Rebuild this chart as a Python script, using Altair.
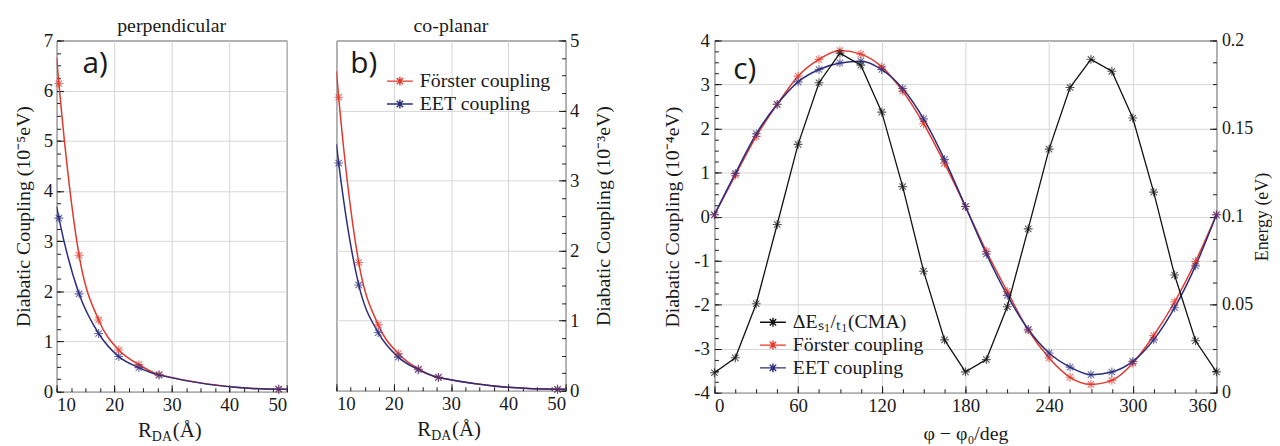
import altair as alt
import pandas as pd

# ---------------- data ----------------
R_DA = [10.4, 13.9, 17.3, 20.8, 24.3, 27.8, 48.6]
perp_forster = [6.14, 2.72, 1.43, 0.83, 0.54, 0.34, 0.05]
perp_eet = [3.46, 1.95, 1.16, 0.70, 0.48, 0.33, 0.05]
copl_forster = [4.19, 1.83, 0.94, 0.53, 0.31, 0.19, 0.02]
copl_eet = [3.25, 1.51, 0.83, 0.48, 0.30, 0.19, 0.02]

# where the drawn curves meet the frame at R = 10 and R = 50
curve_ends_R = [10.0, 50.0]
perp_forster_ends = [6.66, 0.05]
perp_eet_ends = [3.69, 0.05]
copl_forster_ends = [4.56, 0.02]
copl_eet_ends = [3.52, 0.02]

phi_deg = [0, 15, 30, 45, 60, 75, 90, 105, 120, 135, 150, 165, 180,
           195, 210, 225, 240, 255, 270, 285, 300, 315, 330, 345, 360]
forster_phi = [0.04, 0.94, 1.82, 2.55, 3.19, 3.57, 3.77, 3.69, 3.40, 2.85, 2.11, 1.21, 0.23,
               -0.79, -1.70, -2.58, -3.21, -3.65, -3.81, -3.72, -3.33, -2.70, -1.94, -1.02, 0.04]
eet_phi = [0.04, 0.98, 1.88, 2.55, 3.06, 3.34, 3.49, 3.53, 3.34, 2.91, 2.22, 1.30, 0.23,
           -0.85, -1.79, -2.56, -3.10, -3.42, -3.59, -3.53, -3.29, -2.80, -2.07, -1.12, 0.04]
dE_cma = [0.0113, 0.0198, 0.0505, 0.0955, 0.1410, 0.1760, 0.1928, 0.1860, 0.1593, 0.1170, 0.0690, 0.0300, 0.0118,
          0.0188, 0.0488, 0.0930, 0.1383, 0.1733, 0.1893, 0.1825, 0.1560, 0.1139, 0.0668, 0.0295, 0.0118]

SER_F = "Förster coupling"
SER_E = "EET coupling"
SER_D = "ΔEₛ₁/ₜ₁(CMA)"

# axis tick values
r_major = [10, 20, 30, 40, 50]
r_minor = [10 + 2.5 * i for i in range(17)]
a_major = [0, 1, 2, 3, 4, 5, 6, 7]
a_minor = [0.25 * i for i in range(29)]
b_major = [0, 1, 2, 3, 4, 5]
b_minor = [0.25 * i for i in range(21)]
phi_major = [0, 60, 120, 180, 240, 300, 360]
phi_minor = [15 * i for i in range(25)]
c_major = [-4, -3, -2, -1, 0, 1, 2, 3, 4]
c_minor = [-4 + 0.25 * i for i in range(33)]
e_major = [0, 0.05, 0.1, 0.15, 0.2]
e_minor = [0.0125 * i for i in range(17)]

# ---------------- style ----------------
FONT = "Liberation Serif"
SANS = "Open Sans"
INK = "#1a1a1a"
RED = "#e2372c"
NAVY = "#2b2d7e"
BLACK = "#111111"
GRID = "#d6d6d6"
ASTER = "M-1,0L1,0M0,-1L0,1M-0.72,-0.72L0.72,0.72M-0.72,0.72L0.72,-0.72"
LEG_SYM = "M-2.6,0L2.6,0M-0.9,0L0.9,0M0,-0.9L0,0.9M-0.65,-0.65L0.65,0.65M-0.65,0.65L0.65,-0.65"


def make_axis(orient, values, major, title=None, title_padding=8, title_angle=None,
              title_baseline=None, label_size=19, label_pad=4, grid=True, title_size=20):
    kw = dict(orient=orient, values=values, domain=False, ticks=True,
              tickColor=INK, tickWidth=1, labelOverlap=False)
    if major:
        kw.update(tickSize=7, offset=-7, labelFont=FONT, labelFontSize=label_size,
                  labelColor=INK, labelPadding=label_pad, grid=grid, gridColor=GRID,
                  gridWidth=1, labelExpr="toString(datum.value)")
    else:
        kw.update(tickSize=4, offset=-4, labels=False, grid=False)
    if title:
        kw.update(title=title, titleFont=FONT, titleFontSize=title_size,
                  titleFontWeight="normal", titleColor=INK, titlePadding=title_padding)
        if title_angle is not None:
            kw["titleAngle"] = title_angle
        if title_baseline is not None:
            kw["titleBaseline"] = title_baseline
    else:
        kw["title"] = None
    return alt.Axis(**kw)


def legend(x, y):
    return alt.Legend(title=None, orient="none", legendX=x, legendY=y,
                      symbolType=LEG_SYM, symbolSize=100, symbolStrokeWidth=1.4,
                      labelFont=FONT, labelFontSize=20, labelColor=INK,
                      labelOffset=10, rowPadding=3, padding=0)


one = pd.DataFrame({"k": [0]})


def label_text(txt, x, y):
    return alt.Chart(one).mark_text(text=txt, align="left", baseline="alphabetic",
                                    font=SANS, fontSize=30, color=INK).encode(
        x=alt.value(x), y=alt.value(y))


def rda_title(w, h):
    x0 = w / 2 - 34
    r = alt.Chart(one).mark_text(text="R", align="left", baseline="alphabetic", font=FONT,
                                 fontSize=21, color=INK).encode(x=alt.value(x0), y=alt.value(h + 46))
    da = alt.Chart(one).mark_text(text="DA", align="left", baseline="alphabetic", font=FONT,
                                  fontSize=14, color=INK).encode(x=alt.value(x0 + 14), y=alt.value(h + 50))
    ang = alt.Chart(one).mark_text(text="(Å)", align="left", baseline="alphabetic", font=FONT,
                                   fontSize=21, color=INK).encode(x=alt.value(x0 + 35), y=alt.value(h + 46))
    return [r, da, ang]


TITLE = dict(font=FONT, fontSize=20, fontWeight="normal", color=INK, offset=-4, anchor="middle")


def distance_panel(fvals, evals, fends, eends, ydom, ymaj, ymin, ytitle, yorient, tpad,
                   tangle, tbase, leg, lab, labx, laby, w, h, title):
    n = len(R_DA)
    pts_df = pd.DataFrame({"R": R_DA * 2, "V": fvals + evals,
                           "series": [SER_F] * n + [SER_E] * n})
    curve_R = [curve_ends_R[0]] + R_DA + [curve_ends_R[1]]
    curve_df = pd.DataFrame({
        "R": curve_R * 2,
        "V": [fends[0]] + fvals + [fends[1]] + [eends[0]] + evals + [eends[1]],
        "series": [SER_F] * (n + 2) + [SER_E] * (n + 2),
    })
    cs = alt.Scale(domain=[SER_F, SER_E], range=[RED, NAVY])
    xs = alt.Scale(domain=[10, 50], nice=False, zero=False)
    ys = alt.Scale(domain=ydom, nice=False, zero=False)
    line = alt.Chart(curve_df).mark_line(strokeWidth=1.5, interpolate="monotone", clip=True).encode(
        x=alt.X("R:Q", scale=xs, axis=make_axis("bottom", r_major, True)),
        y=alt.Y("V:Q", scale=ys, axis=make_axis(yorient, ymaj, True, title=ytitle,
                                                 title_padding=tpad, title_angle=tangle,
                                                 title_baseline=tbase)),
        color=alt.Color("series:N", scale=cs, legend=leg),
    )
    pts = alt.Chart(pts_df).mark_point(shape=ASTER, filled=False, size=80, strokeWidth=1.1).encode(
        x=alt.X("R:Q", scale=xs, axis=make_axis("bottom", r_minor, False)),
        y=alt.Y("V:Q", scale=ys, axis=make_axis(yorient, ymin, False)),
        color=alt.Color("series:N", scale=cs, legend=None),
    )
    layers = [line, pts, label_text(lab, labx, laby)] + rda_title(w, h)
    return alt.layer(*layers).resolve_axis(x="independent", y="independent").properties(
        width=w, height=h, title=alt.TitleParams(title, **TITLE))


pa = distance_panel(perp_forster, perp_eet, perp_forster_ends, perp_eet_ends, [0, 7],
                    a_major, a_minor, "Diabatic Coupling (10⁻⁵eV)", "left", 10, None, None,
                    None, "a)", 26, 33, 232, 354, "perpendicular")
pb = distance_panel(copl_forster, copl_eet, copl_forster_ends, copl_eet_ends, [0, 5],
                    b_major, b_minor, "Diabatic Coupling (10⁻³eV)", "right", 15, 270, "top",
                    legend(54, 31), "b)", 14, 33, 231, 353, "co-planar")

# ---------------- panel c ----------------
cpl = pd.DataFrame({"phi": phi_deg * 2, "V": forster_phi + eet_phi,
                    "series": [SER_F] * len(phi_deg) + [SER_E] * len(phi_deg)})
ene = pd.DataFrame({"phi": phi_deg, "E": dE_cma, "series": [SER_D] * len(phi_deg)})
csc = alt.Scale(domain=[SER_D, SER_F, SER_E], range=[BLACK, RED, NAVY])
xsc = alt.Scale(domain=[0, 360], nice=False, zero=False)
ysl = alt.Scale(domain=[-4, 4], nice=False, zero=False)
ysr = alt.Scale(domain=[0, 0.2], nice=False, zero=False)
WC, HC = 506, 355

c1 = alt.Chart(cpl).mark_line(interpolate="monotone", strokeWidth=1.5).encode(
    x=alt.X("phi:Q", scale=xsc, axis=make_axis("bottom", phi_major, True,
                                                title="φ − φ₀/deg", title_padding=8)),
    y=alt.Y("V:Q", scale=ysl, axis=make_axis("left", c_major, True,
                                              title="Diabatic Coupling (10⁻⁴eV)",
                                              title_padding=11, label_pad=5)),
    color=alt.Color("series:N", scale=csc, legend=legend(49, 274)),
)
c2 = alt.Chart(cpl).mark_point(shape=ASTER, filled=False, size=80, strokeWidth=1.1).encode(
    x=alt.X("phi:Q", scale=xsc, axis=make_axis("bottom", phi_minor, False)),
    y=alt.Y("V:Q", scale=ysl, axis=make_axis("left", c_minor, False)),
    color=alt.Color("series:N", scale=csc, legend=None),
)
c3 = alt.Chart(ene).mark_line(strokeWidth=1.3).encode(
    x=alt.X("phi:Q", scale=xsc, axis=None),
    y=alt.Y("E:Q", scale=ysr, axis=make_axis("right", e_major, True, title="Energy (eV)",
                                              title_padding=1, title_angle=270,
                                              title_baseline="top", grid=False,
                                              label_size=18, label_pad=5, title_size=18)),
    color=alt.Color("series:N", scale=csc, legend=None),
)
c4 = alt.Chart(ene).mark_point(shape=ASTER, filled=False, size=80, strokeWidth=1.1).encode(
    x=alt.X("phi:Q", scale=xsc, axis=None),
    y=alt.Y("E:Q", scale=ysr, axis=make_axis("right", e_minor, False)),
    color=alt.Color("series:N", scale=csc, legend=None),
)
pc = alt.layer(c1, c2, c3, c4, label_text("c)", 19, 39)).resolve_scale(
    y="independent").resolve_axis(x="independent", y="independent").properties(
    width=WC, height=HC, title=alt.TitleParams(" ", **TITLE))

inner = alt.hconcat(pa, pb, spacing=44).resolve_scale(color="independent").resolve_legend(
    color="independent")
chart = alt.hconcat(inner, pc, spacing=48).resolve_scale(color="independent").resolve_legend(
    color="independent").properties(
    padding={"left": 5, "top": 5, "right": 0, "bottom": 0}
).configure(font=FONT).configure_axis(
    labelFont=FONT, titleFont=FONT
).configure_legend(labelFont=FONT).configure_view(stroke=INK, strokeWidth=1)

chart.save("out.html", embed_options={"renderer": "svg", "actions": False})
